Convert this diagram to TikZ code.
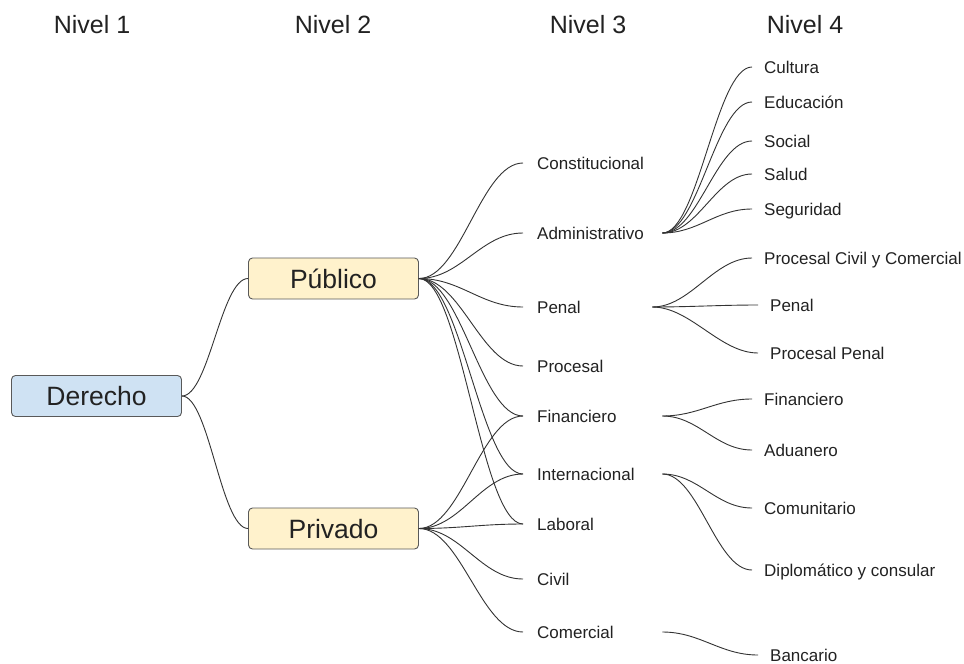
\documentclass[tikz,border=0pt]{standalone}
\usepackage{fontspec}
\setmainfont{Liberation Sans}
\usetikzlibrary{calc}
\definecolor{blueF}{HTML}{CFE2F3}
\definecolor{yellowF}{HTML}{FFF2CC}
\definecolor{edgec}{HTML}{595959}
\definecolor{ink}{HTML}{222222}
\definecolor{wirec}{HTML}{333333}
\newcommand\cc[3]{\draw[link] (#1) .. controls +(#3,0) and +(-#3,0) .. (#2);}
\newcommand\lbox[1]{\makebox[125pt][l]{#1}}
\begin{document}
\begin{tikzpicture}[x=1pt,y=-1pt,
  hdr/.style={font=\fontsize{25}{30}\selectfont, text=ink, inner sep=0pt, text height=18pt, text depth=0pt},
  big/.style={draw=edgec, line width=0.9pt, rounded corners=4pt, minimum width=170pt, minimum height=41pt, inner sep=0pt, font=\fontsize{26.5}{32}\selectfont, text=ink, text height=19.3pt, text depth=0pt},
  lt/.style={anchor=west, inner sep=0pt, font=\fontsize{17}{20}\selectfont, text=ink, text height=12.4pt, text depth=0pt},
  link/.style={draw=wirec, line width=0.9pt}]
\useasboundingbox (0,0) rectangle (964,664);
\fill[white] (0,0) rectangle (964,664);
% headers
\node[hdr] (h1) at (92,24) {Nivel 1};
\node[hdr] (h2) at (333,24) {Nivel 2};
\node[hdr] (h3) at (588,24) {Nivel 3};
\node[hdr] (h4) at (805,24) {Nivel 4};
% level 1-2
\node[big, fill=blueF] (der) at (96.5,396) {Derecho};
\node[big, fill=yellowF] (pub) at (333.5,278.5) {Público};
\node[big, fill=yellowF] (pri) at (333.5,528.5) {Privado};
% level 3
\node[lt] (con) at (537,163) {\lbox{Constitucional}};
\node[lt] (adm) at (537,233) {\lbox{Administrativo}};
\node[lt] (pen) at (537,307) {\lbox{Penal}};
\node[lt] (pro) at (537,366) {\lbox{Procesal}};
\node[lt] (fin) at (537,416) {\lbox{Financiero}};
\node[lt] (int) at (537,474) {\lbox{Internacional}};
\node[lt] (lab) at (537,524) {\lbox{Laboral}};
\node[lt] (civ) at (537,579) {\lbox{Civil}};
\node[lt] (com) at (537,632) {\lbox{Comercial}};
% level 4
\node[lt] (cul) at (764,67) {Cultura};
\node[lt] (edu) at (764,102) {Educación};
\node[lt] (soc) at (764,141) {Social};
\node[lt] (sal) at (764,174) {Salud};
\node[lt] (seg) at (764,209) {Seguridad};
\node[lt] (pcc) at (764,258) {Procesal Civil y Comercial};
\node[lt] (pnl) at (770,305) {Penal};
\node[lt] (ppe) at (770,353) {Procesal Penal};
\node[lt] (fia) at (764,399) {Financiero};
\node[lt] (adu) at (764,450) {Aduanero};
\node[lt] (cmu) at (764,508) {Comunitario};
\node[lt] (dip) at (764,570) {Diplomático y consular};
\node[lt] (ban) at (770,655) {Bancario};
% connectors level 1-2
\cc{der.east}{pub.west}{27}
\cc{der.east}{pri.west}{27}
% Público -> level 3
\foreach \n in {con,adm,pen,pro,fin,int,lab}{\cc{pub.east}{[xshift=-14pt]\n.west}{42}}
% Privado -> level 3
\foreach \n in {fin,int,lab,civ,com}{\cc{pri.east}{[xshift=-14pt]\n.west}{42}}
% Administrativo -> level 4
\foreach \n in {cul,edu,soc,sal,seg}{\cc{adm.east}{[xshift=-12pt]\n.west}{36}}
% Penal -> level 4
\foreach \n in {pcc,pnl,ppe}{\cc{[xshift=-10pt]pen.east}{[xshift=-12pt]\n.west}{38}}
% Financiero -> level 4
\foreach \n in {fia,adu}{\cc{fin.east}{[xshift=-12pt]\n.west}{36}}
% Internacional -> level 4
\foreach \n in {cmu,dip}{\cc{int.east}{[xshift=-12pt]\n.west}{36}}
% Comercial -> Bancario
\cc{com.east}{[xshift=-12pt]ban.west}{38}
\end{tikzpicture}
\end{document}
